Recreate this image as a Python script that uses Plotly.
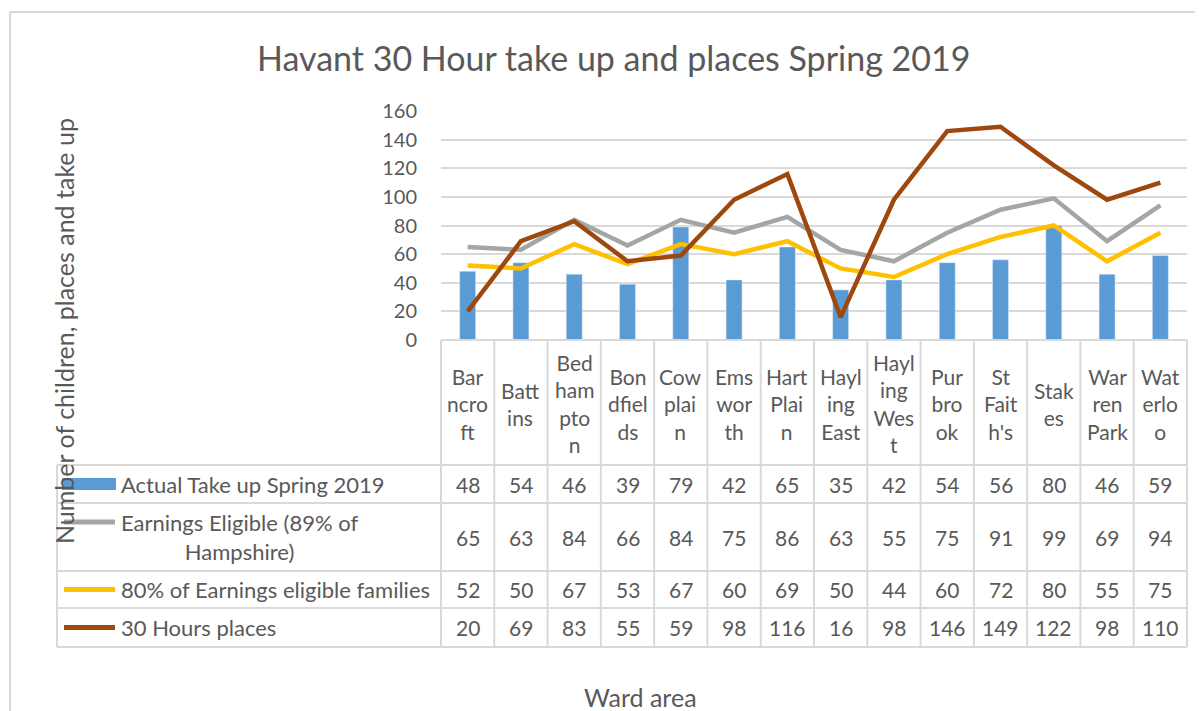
import plotly.graph_objects as go

W, H = 1203, 711

wards = ["Barncroft", "Battins", "Bedhampton", "Bondfields", "Cowplain", "Emsworth",
         "Hart Plain", "Hayling East", "Hayling West", "Purbrook", "St Faith's", "Stakes",
         "Warren Park", "Waterloo"]
ward_labels = ["Bar<br>ncro<br>ft", "Batt<br>ins", "Bed<br>ham<br>pto<br>n", "Bon<br>dfiel<br>ds",
               "Cow<br>plai<br>n", "Ems<br>wor<br>th", "Hart<br>Plai<br>n", "Hayl<br>ing<br>East",
               "Hayl<br>ing<br>Wes<br>t", "Pur<br>bro<br>ok", "St<br>Fait<br>h's", "Stak<br>es",
               "War<br>ren<br>Park", "Wat<br>erlo<br>o"]

actual_take_up = [48, 54, 46, 39, 79, 42, 65, 35, 42, 54, 56, 80, 46, 59]
earnings_eligible = [65, 63, 84, 66, 84, 75, 86, 63, 55, 75, 91, 99, 69, 94]
eighty_pct = [52, 50, 67, 53, 67, 60, 69, 50, 44, 60, 72, 80, 55, 75]
hours_places = [20, 69, 83, 55, 59, 98, 116, 16, 98, 146, 149, 122, 98, 110]

series_names = ["Actual Take up Spring 2019", "Earnings Eligible (89% of<br>Hampshire)",
                "80% of Earnings eligible families", "30 Hours places"]
series_values = [actual_take_up, earnings_eligible, eighty_pct, hours_places]
series_colors = ["#5B9BD5", "#A5A5A5", "#FFC000", "#9E480E"]

y_ticks = [0, 20, 40, 60, 80, 100, 120, 140, 160]

TXT = "#595959"
GRID = "#D9D9D9"
FONT = "Lato"
OFF = 8  # page body margin compensation


def px(x):
    return (x - OFF) / W


def py(y):
    return 1 - (y - OFF) / H


x_left, x_right = 441, 1187
y_top, y_zero = 111, 340
row_edges = [340, 465, 503, 571, 608, 647]
table_left = 57

idx = list(range(len(wards)))

fig = go.Figure()
fig.add_trace(go.Bar(x=idx, y=actual_take_up, marker_color=series_colors[0], width=0.3,
                     name=series_names[0]))
for vals, col, nm in zip(series_values[1:], series_colors[1:], series_names[1:]):
    fig.add_trace(go.Scatter(x=idx, y=vals, mode="lines", line=dict(color=col, width=4.5),
                             name=nm))

shapes = []
annotations = []

# outer chart border
shapes.append(dict(type="line", xref="paper", yref="paper", x0=px(10), x1=px(1215),
                   y0=py(12), y1=py(12), line=dict(color=GRID, width=2)))
shapes.append(dict(type="line", xref="paper", yref="paper", x0=px(10), x1=px(10),
                   y0=py(12), y1=py(720), line=dict(color=GRID, width=2)))

# table horizontal lines
shapes.append(dict(type="line", xref="paper", yref="paper", x0=px(x_left), x1=px(x_right),
                   y0=py(row_edges[0]), y1=py(row_edges[0]), line=dict(color=GRID, width=2)))
for ye in row_edges[1:]:
    shapes.append(dict(type="line", xref="paper", yref="paper", x0=px(table_left), x1=px(x_right),
                       y0=py(ye), y1=py(ye), line=dict(color=GRID, width=2)))
# table vertical lines
colw = (x_right - x_left) / len(wards)
for i in range(len(wards) + 1):
    xe = x_left + i * colw
    shapes.append(dict(type="line", xref="paper", yref="paper", x0=px(xe), x1=px(xe),
                       y0=py(row_edges[0]), y1=py(row_edges[-1]), line=dict(color=GRID, width=2)))
shapes.append(dict(type="line", xref="paper", yref="paper", x0=px(table_left), x1=px(table_left),
                   y0=py(row_edges[1]), y1=py(row_edges[-1]), line=dict(color=GRID, width=2)))

# header labels
for i, lab in enumerate(ward_labels):
    annotations.append(dict(xref="paper", yref="paper", x=px(x_left + (i + 0.5) * colw),
                            y=py((row_edges[0] + row_edges[1]) / 2 + 1), text=lab, showarrow=False,
                            font=dict(family=FONT, size=21, color=TXT), xanchor="center",
                            yanchor="middle", align="center"))

# rows: legend keys, names, values
for r, (nm, vals, col) in enumerate(zip(series_names, series_values, series_colors)):
    yc = (row_edges[r + 1] + row_edges[r + 2]) / 2
    yk = yc if r != 1 else row_edges[r + 1] + 19
    if r == 0:
        shapes.append(dict(type="rect", xref="paper", yref="paper", x0=px(62), x1=px(116),
                           y0=py(yk - 6), y1=py(yk + 6), fillcolor=col, line=dict(width=0)))
    else:
        shapes.append(dict(type="line", xref="paper", yref="paper", x0=px(64), x1=px(115),
                           y0=py(yk), y1=py(yk), line=dict(color=col, width=5)))
    annotations.append(dict(xref="paper", yref="paper", x=px(119), y=py(yc), text=nm,
                            showarrow=False, font=dict(family=FONT, size=22, color=TXT),
                            xanchor="left", yanchor="middle", align="center"))
    for i, v in enumerate(vals):
        annotations.append(dict(xref="paper", yref="paper", x=px(x_left + (i + 0.5) * colw),
                                y=py(yc), text=str(v), showarrow=False,
                                font=dict(family=FONT, size=21, color=TXT), xanchor="center",
                                yanchor="middle"))

# titles
annotations.append(dict(xref="paper", yref="paper", x=px(613), y=py(57),
                        text="Havant 30 Hour take up and places Spring 2019", showarrow=False,
                        font=dict(family=FONT, size=34, color=TXT), xanchor="center",
                        yanchor="middle"))
annotations.append(dict(xref="paper", yref="paper", x=px(64), y=py(331),
                        text="Number of children, places and take up", showarrow=False,
                        textangle=-90, font=dict(family=FONT, size=25, color=TXT),
                        xanchor="center", yanchor="middle"))
annotations.append(dict(xref="paper", yref="paper", x=px(640), y=py(697), text="Ward area",
                        showarrow=False, font=dict(family=FONT, size=25, color=TXT),
                        xanchor="center", yanchor="middle"))

fig.update_layout(
    width=W, height=H,
    margin=dict(l=0, r=0, t=0, b=0, pad=0, autoexpand=False),
    paper_bgcolor="white", plot_bgcolor="white",
    showlegend=False,
    shapes=shapes, annotations=annotations,
    xaxis=dict(domain=[px(x_left), px(x_right)], range=[-0.5, len(wards) - 0.5],
               showticklabels=False, showgrid=False, zeroline=False, showline=False,
               automargin=False, fixedrange=True),
    yaxis=dict(domain=[py(y_zero), py(y_top)], range=[0, 160], tickvals=y_ticks,
               showgrid=True, gridcolor=GRID, gridwidth=2, zeroline=False, showline=False,
               tickfont=dict(family=FONT, size=20, color=TXT), ticklabelstandoff=23,
               automargin=False, fixedrange=True),
)

fig.write_html("out.html")
